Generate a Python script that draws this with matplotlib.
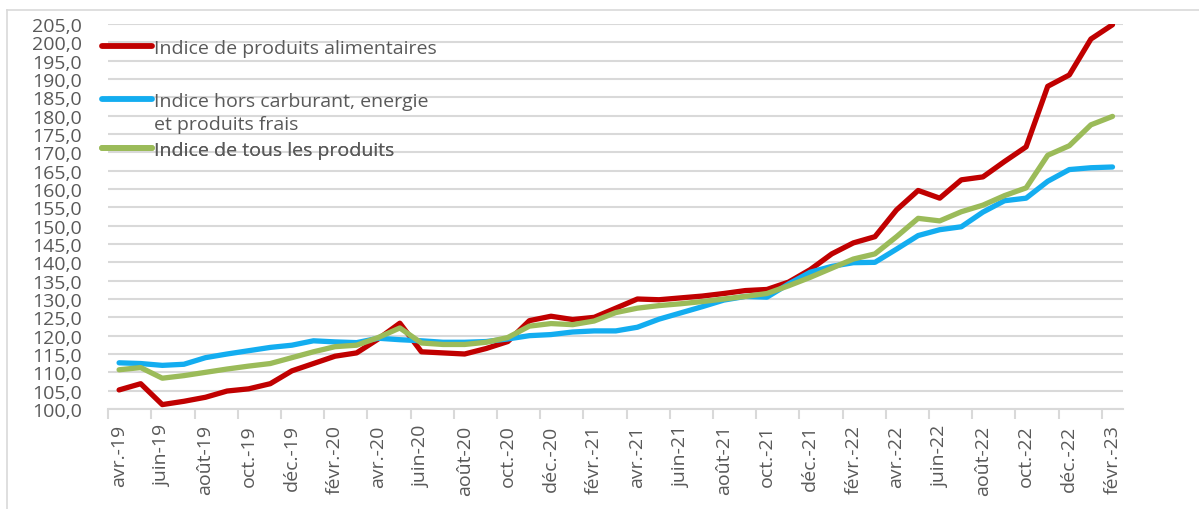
import numpy as np
import matplotlib
matplotlib.use("Agg")
import matplotlib.pyplot as plt
from matplotlib.ticker import FuncFormatter
from matplotlib.legend_handler import HandlerLine2D
from matplotlib.lines import Line2D

plt.rcParams['font.family'] = ['Open Sans', 'DejaVu Sans']

# ---- data ----
month_abbr = ['janv.', 'févr.', 'mars', 'avr.', 'mai', 'juin',
              'juil.', 'août', 'sept.', 'oct.', 'nov.', 'déc.']
categories = [f"{month_abbr[(3 + i) % 12]}-{19 + (3 + i) // 12}" for i in range(47)]

alimentaires = [105.2, 106.9, 101.2, 102.1, 103.2, 104.9, 105.5, 106.9, 110.4, 112.4, 114.4, 115.3,
                119.1, 123.4, 115.6, 115.3, 115.0, 116.5, 118.4, 124.1, 125.3, 124.4, 125.0, 127.5,
                130.0, 129.8, 130.3, 130.8, 131.5, 132.3, 132.6, 134.6, 138.0, 142.3, 145.3, 147.0,
                154.3, 159.6, 157.5, 162.5, 163.3, 167.5, 171.5, 188.0, 191.1, 200.9, 204.8]
hors_carburant = [112.6, 112.4, 111.9, 112.2, 114.0, 115.0, 115.9, 116.8, 117.4, 118.6, 118.3, 118.1,
                  119.3, 118.9, 118.6, 118.2, 118.2, 118.4, 119.1, 120.0, 120.3, 121.0, 121.3, 121.3,
                  122.3, 124.5, 126.2, 127.9, 129.7, 130.7, 130.5, 134.1, 137.3, 138.9, 139.9, 140.0,
                  143.6, 147.3, 148.9, 149.7, 153.7, 156.8, 157.5, 162.1, 165.3, 165.8, 166.0]
tous_produits = [110.7, 111.3, 108.4, 109.1, 110.0, 110.9, 111.7, 112.4, 114.0, 115.6, 117.0, 117.4,
                 119.5, 122.1, 118.0, 117.6, 117.6, 118.2, 119.5, 122.6, 123.3, 123.0, 124.0, 126.3,
                 127.5, 128.2, 128.7, 129.3, 130.0, 130.7, 131.5, 133.6, 135.9, 138.4, 140.9, 142.3,
                 147.0, 152.0, 151.3, 153.8, 155.6, 158.2, 160.3, 169.2, 171.8, 177.5, 179.8]

labels = ["Indice de produits alimentaires",
          "Indice hors carburant, energie\net produits frais",
          "Indice de tous les produits"]
colors = ["#C00000", "#13ADF0", "#9BBB59"]

W, H = 1199, 510
fig = plt.figure(figsize=(W / 100, H / 100), dpi=100)
ax = fig.add_axes([108.3 / W, 1 - 410 / H, (1123.3 - 108.3) / W, (410 - 25) / H])

x = np.arange(len(categories))
series = [alimentaires, hors_carburant, tous_produits]
lines = []
for vals, col, lab in zip(series, colors, labels):
    ln, = ax.plot(x, vals, color=col, lw=3.8, solid_joinstyle='round',
                  solid_capstyle='round', label=lab, zorder=3)
    lines.append(ln)

ax.set_xlim(-0.5, len(categories) - 0.5)
ax.set_ylim(100, 205)
ax.set_yticks(np.arange(100, 205.1, 5))
ax.yaxis.set_major_formatter(FuncFormatter(lambda v, p: f"{v:.1f}".replace('.', ',')))
ax.grid(axis='y', color='#D9D9D9', lw=1.5, zorder=0)
ax.set_axisbelow(True)

ax.set_xticks(np.arange(-0.5, len(categories) - 1, 2))
ax.set_xticklabels([])
ax.set_xticks(x[::2], minor=True)
ax.set_xticklabels(categories[::2], minor=True, rotation=90)
ax.tick_params(axis='x', which='major', length=7, width=1.5, color='#D9D9D9')
ax.tick_params(axis='x', which='minor', length=0, pad=11, labelsize=14, labelcolor='#595959')
ax.tick_params(axis='y', length=0, pad=19, labelsize=14, labelcolor='#595959')

for s in ['left', 'right', 'top']:
    ax.spines[s].set_visible(False)
ax.spines['bottom'].set_color('#D9D9D9')
ax.spines['bottom'].set_linewidth(1.5)


class ShiftHandler(HandlerLine2D):
    def __init__(self, shift=0.0, **kw):
        super().__init__(**kw)
        self.shift = shift

    def create_artists(self, legend, orig_handle, xdescent, ydescent, width,
                       height, fontsize, trans):
        arts = super().create_artists(legend, orig_handle, xdescent, ydescent,
                                      width, height, fontsize, trans)
        for a in arts:
            a.set_ydata(np.asarray(a.get_ydata(), dtype=float) + self.shift)
        return arts


legend_y = [49, 113.5, 151]
shifts = [0.0, 9.6, 0.0]
for ln, yy, sh in zip(lines, legend_y, shifts):
    h = Line2D([], [], color=ln.get_color(), lw=4.2, solid_capstyle='round')
    leg = ax.legend([h], [ln.get_label()], loc='center left',
                    bbox_to_anchor=(102 / W, 1 - yy / H), bbox_transform=fig.transFigure,
                    frameon=False, borderpad=0, borderaxespad=0, handlelength=2.55,
                    handletextpad=0.15, fontsize=14,
                    handler_map={h: ShiftHandler(shift=sh)})
    for t in leg.get_texts():
        t.set_color('#595959')
        t.set_linespacing(1.42)
    ax.add_artist(leg)

# outer chart frame
fig.add_artist(Line2D([7 / W, 1.0], [1 - 11 / H, 1 - 11 / H], color='#D9D9D9', lw=1.2,
                      transform=fig.transFigure))
fig.add_artist(Line2D([7 / W, 7 / W], [0, 1 - 11 / H], color='#D9D9D9', lw=1.2,
                      transform=fig.transFigure))

fig.savefig("out.png", dpi=100)
